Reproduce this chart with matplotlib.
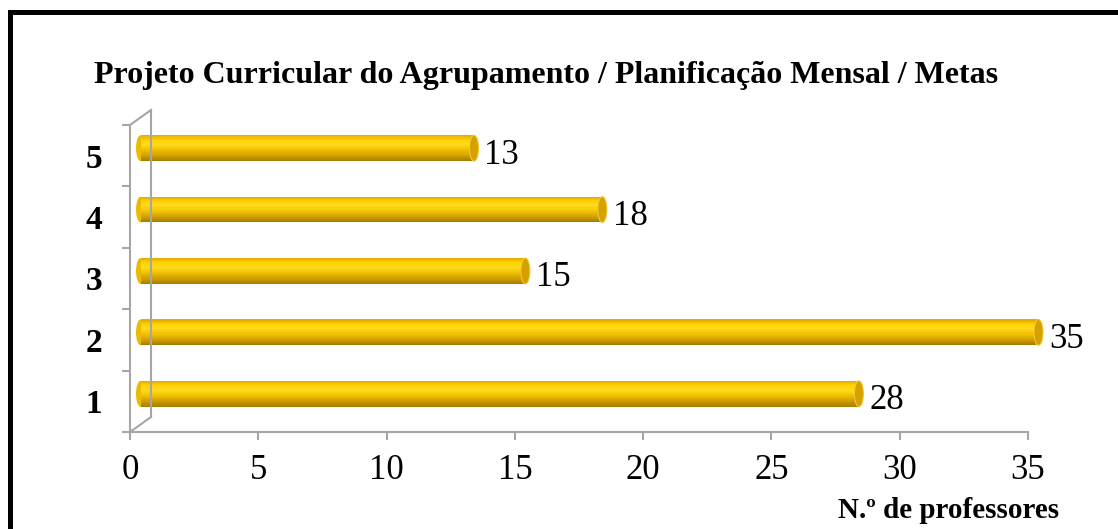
import numpy as np
import matplotlib
matplotlib.use("Agg")
import matplotlib.pyplot as plt
from matplotlib import transforms
from matplotlib.patches import Ellipse, Rectangle
from matplotlib.lines import Line2D
from matplotlib.colors import LinearSegmentedColormap

# dados
categorias = [1, 2, 3, 4, 5]
professores = [28, 35, 15, 18, 13]
marcas_x = [0, 5, 10, 15, 20, 25, 30, 35]
titulo = "Projeto Curricular do Agrupamento / Planificação Mensal / Metas"
rotulo_x = "N.º de professores"

plt.rcParams['font.family'] = ['Liberation Serif', 'DejaVu Serif']

W, H = 1118, 529
fig = plt.figure(figsize=(W / 100, H / 100), dpi=100)
ax = fig.add_axes([130 / W, (H - 432) / H, (1028 - 130) / W, (432 - 125) / H])
ax.set_xlim(0, 35)
ax.set_ylim(0.5, 5.5)
ax.patch.set_alpha(0)
for s in ax.spines.values():
    s.set_visible(False)

cinza = '#A6A6A6'

# profundidade 3D (pixels)
prof_x, prof_y = 21, 15
desl = transforms.ScaledTranslation(prof_x / 2 / 100, prof_y / 2 / 100, fig.dpi_scale_trans)
trans_barra = ax.transData + desl

# eixos
ax.plot([0, 0], [0.5, 5.5], color=cinza, lw=1.5, clip_on=False)
ax.plot([0, 35], [0.5, 0.5], color=cinza, lw=1.5, clip_on=False)
fig.canvas.draw()
p_baixo = ax.transData.transform((0, 0.5))
p_cima = ax.transData.transform((0, 5.5))
for a, b in [(p_baixo, p_baixo + [prof_x, prof_y]),
             (p_cima, p_cima + [prof_x, prof_y]),
             (p_baixo + [prof_x, prof_y], p_cima + [prof_x, prof_y])]:
    fig.add_artist(Line2D([a[0], b[0]], [a[1], b[1]], color=cinza, lw=1.5,
                          transform=transforms.IdentityTransform()))

ax.set_xticks(marcas_x)
ax.set_xticklabels([str(v) for v in marcas_x])
ax.tick_params(axis='x', direction='out', length=6, width=1.5, color=cinza,
               labelsize=25, pad=10)
ax.set_yticks(categorias)
ax.set_yticklabels([str(c) for c in categorias], fontweight='bold')
ax.tick_params(axis='y', length=0, labelsize=24, pad=20)
ax.set_yticks(np.arange(0.5, 6.0, 1.0), minor=True)
ax.tick_params(axis='y', which='minor', direction='out', length=6, width=1.5, color=cinza)

# barras cilindricas
grad = LinearSegmentedColormap.from_list('ouro', [
    (0.0, '#A87E00'), (0.2, '#D09E00'), (0.45, '#F2C400'),
    (0.65, '#FFDA1E'), (0.85, '#FFD200'), (1.0, '#E2AE00')])
alt = 0.42
n = 24
px_por_unid = (1028 - 130) / 35
tampa = 9 / px_por_unid
for c, v in zip(categorias, professores):
    base = c - alt / 2
    ax.add_patch(Ellipse((0, c), tampa, alt, facecolor='#EBBB00', edgecolor='none',
                         transform=trans_barra, zorder=3, clip_on=False))
    for i in range(n):
        ax.barh(base + i * alt / n, v, height=alt / n * 1.05, align='edge',
                color=grad(i / (n - 1)), edgecolor='none', transform=trans_barra,
                zorder=4, clip_on=False)
    ax.add_patch(Ellipse((v, c), tampa, alt, facecolor='#D6A000', edgecolor='#F2C833',
                         lw=0.8, transform=trans_barra, zorder=5, clip_on=False))
    ax.annotate(str(v), (v, c), xytext=(15, 0.5), textcoords='offset points',
                ha='left', va='center', fontsize=25, zorder=6, annotation_clip=False)

fig.text(546 / W, 1 - 76 / H, titulo, ha='center', va='center',
         fontsize=23, fontweight='bold')
fig.text(1059 / W, 1 - 511 / H, rotulo_x, ha='right', va='center',
         fontsize=21, fontweight='bold')

fig.add_artist(Rectangle((9.5, -20), W + 20, H - 11.5 + 20, fill=False,
                         edgecolor='black', lw=3.6,
                         transform=transforms.IdentityTransform()))

fig.savefig('out.png', dpi=100)
